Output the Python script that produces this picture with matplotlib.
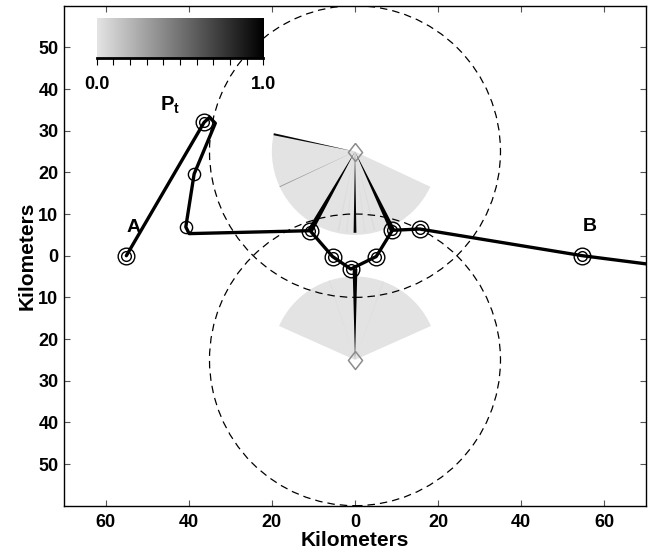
import numpy as np
import matplotlib
matplotlib.use("Agg")
import matplotlib.pyplot as plt
from matplotlib.patches import Wedge, Circle
from matplotlib.colors import LinearSegmentedColormap
from matplotlib.ticker import FuncFormatter

plt.rcParams['font.family'] = ['Liberation Sans', 'DejaVu Sans']
plt.rcParams['font.weight'] = 'bold'
plt.rcParams['mathtext.fontset'] = 'custom'
plt.rcParams['mathtext.rm'] = 'Liberation Sans:bold'
plt.rcParams['mathtext.bf'] = 'Liberation Sans:bold'
plt.rcParams['mathtext.it'] = 'Liberation Sans:bold'

# ---------------- data ----------------
# target track (km)
track_x = [-55.0, -36.3, -35.0, -33.6, -38.7, -40.7, -39.9, -10.8, -5.4, -1.0, 5.1, 9.0, 15.6, 54.7, 75.0]
track_y = [0.0, 32.0, 33.2, 31.8, 19.6, 6.9, 5.3, 6.0, -0.2, -3.2, -0.2, 6.1, 6.4, 0.0, -2.6]
# detections with double circles
det2_x = [-55.0, -36.3, -10.8, -5.4, -1.0, 5.1, 9.0, 15.6, 54.7]
det2_y = [0.0, 32.0, 6.0, -0.2, -3.2, -0.2, 6.1, 6.4, 0.0]
# detections with single circles
det1_x = [-38.7, -40.7]
det1_y = [19.6, 6.9]

# sensors
sensor_x = [0.0, 0.0]
sensor_y = [25.0, -25.0]
range_ring = [35.0, 35.0]
sector_radius = [20.0, 20.0]
sector_theta1 = [168.0, 24.0]
sector_theta2 = [335.0, 156.0]

# rays of each sensor: angle (deg), length (km), Pt, half beam width (deg)
ray_angle_up = [258, 264, 277, 284, 168, 205, 240.4, 270, 295.5]
ray_len_up = [19.5, 19.5, 19.5, 19.5, 20.0, 20.0, 21.9, 19.5, 20.9]
ray_pt_up = [0.04, 0.03, 0.03, 0.04, 0.97, 0.35, 1.0, 0.97, 1.0]
ray_w_up = [0.5, 0.5, 0.5, 0.5, 0.7, 0.3, 1.8, 1.0, 1.8]

ray_angle_dn = [70, 108, 90]
ray_len_dn = [20.0, 20.0, 21.8]
ray_pt_dn = [0.03, 0.03, 1.0]
ray_w_dn = [0.4, 0.4, 1.5]

labels_txt = ['A', 'B']
labels_x = [-53.3, 56.5]
labels_y = [6.8, 7.0]

xticks = [-60, -40, -20, 0, 20, 40, 60]
yticks = [-50, -40, -30, -20, -10, 0, 10, 20, 30, 40, 50]
cbar_ticks = [0.0, 0.1, 0.2, 0.3, 0.4, 0.5, 0.6, 0.7, 0.8, 0.9, 1.0]

cmap = LinearSegmentedColormap.from_list('pt', ['#e4e4e4', '#000000'])

# ---------------- figure ----------------
W, H = 655, 554
fig = plt.figure(figsize=(W / 100, H / 100), dpi=100)
ax = fig.add_axes([64 / W, (H - 505.7) / H, 582 / W, 500 / H])
ax.set_xlim(-70, 70)
ax.set_ylim(-60, 60)

# sectors
for cx, cy, r, t1, t2 in zip(sensor_x, sensor_y, sector_radius, sector_theta1, sector_theta2):
    ax.add_patch(Wedge((cx, cy), r, t1, t2, facecolor='#e3e3e3', edgecolor='none', zorder=1))

# range rings
for cx, cy, R in zip(sensor_x, sensor_y, range_ring):
    ax.add_patch(Circle((cx, cy), R, fill=False, edgecolor='black', lw=0.9,
                        linestyle=(0, (6, 4)), zorder=2))

# rays
def draw_rays(cx, cy, angs, lens, pts, ws):
    for a, L, p, w in zip(angs, lens, pts, ws):
        ax.add_patch(Wedge((cx, cy), L, a - w, a + w, facecolor=cmap(p),
                           edgecolor='none', zorder=3 if p > 0.2 else 1.5))

draw_rays(sensor_x[0], sensor_y[0], ray_angle_up, ray_len_up, ray_pt_up, ray_w_up)
draw_rays(sensor_x[1], sensor_y[1], ray_angle_dn, ray_len_dn, ray_pt_dn, ray_w_dn)

# track
ax.plot(track_x, track_y, color='black', lw=2.4, solid_joinstyle='round',
        solid_capstyle='round', zorder=4)
ax.plot(det2_x, det2_y, 'o', ms=12, mfc='none', mec='black', mew=1.0, zorder=5)
ax.plot(det2_x, det2_y, 'o', ms=7, mfc='none', mec='black', mew=1.0, zorder=5)
ax.plot(det1_x, det1_y, 'o', ms=8.8, mfc='none', mec='black', mew=1.0, zorder=5)

# sensors
diamond = [(0, 1), (0.78, 0), (0, -1), (-0.78, 0), (0, 1)]
ax.plot(sensor_x, sensor_y, linestyle='none', marker=diamond, ms=13, mfc='none',
        mec='#8c8c8c', mew=1.1, zorder=6)

for t, x, y in zip(labels_txt, labels_x, labels_y):
    ax.text(x, y, t, fontsize=14, fontweight='bold', ha='center', va='center', zorder=7)

ax.text(-46.8, 36.0, r'$\mathbf{P_t}$', fontsize=14.5, ha='left', va='center')

# axes styling
ax.set_xticks(xticks)
ax.set_yticks(yticks)
fmt = FuncFormatter(lambda v, p: '%d' % abs(round(v)))
ax.xaxis.set_major_formatter(fmt)
ax.yaxis.set_major_formatter(fmt)
ax.tick_params(direction='in', length=4, width=0.8, color='#555555', top=True, right=True,
               labelsize=13)
ax.tick_params(axis='x', pad=6)
ax.tick_params(axis='y', pad=4)
for lab in ax.get_xticklabels() + ax.get_yticklabels():
    lab.set_fontweight('bold')
for s in ax.spines.values():
    s.set_linewidth(1.0)
ax.set_xlabel('Kilometers', fontsize=15, fontweight='bold', labelpad=0)
ax.set_ylabel('Kilometers', fontsize=15, fontweight='bold', labelpad=1)

# colorbar
cax = fig.add_axes([96.7 / W, (H - 57.7) / H, 166.6 / W, 40 / H])
grad = np.linspace(0, 1, 256).reshape(1, -1)
cax.imshow(grad, cmap=cmap, aspect='auto', extent=[0, 1, 0, 1])
cax.set_xlim(0, 1)
cax.set_ylim(0, 1)
cax.set_yticks([])
cax.set_xticks(cbar_ticks)
cax.set_xticklabels(['0.0'] + [''] * 9 + ['1.0'])
cax.tick_params(axis='x', direction='out', length=5, width=0.8, labelsize=13, pad=8)
for lab in cax.get_xticklabels():
    lab.set_fontweight('bold')
for k in ['top', 'left', 'right']:
    cax.spines[k].set_visible(False)
cax.spines['bottom'].set_linewidth(2.0)

fig.savefig('out.png', dpi=100)
